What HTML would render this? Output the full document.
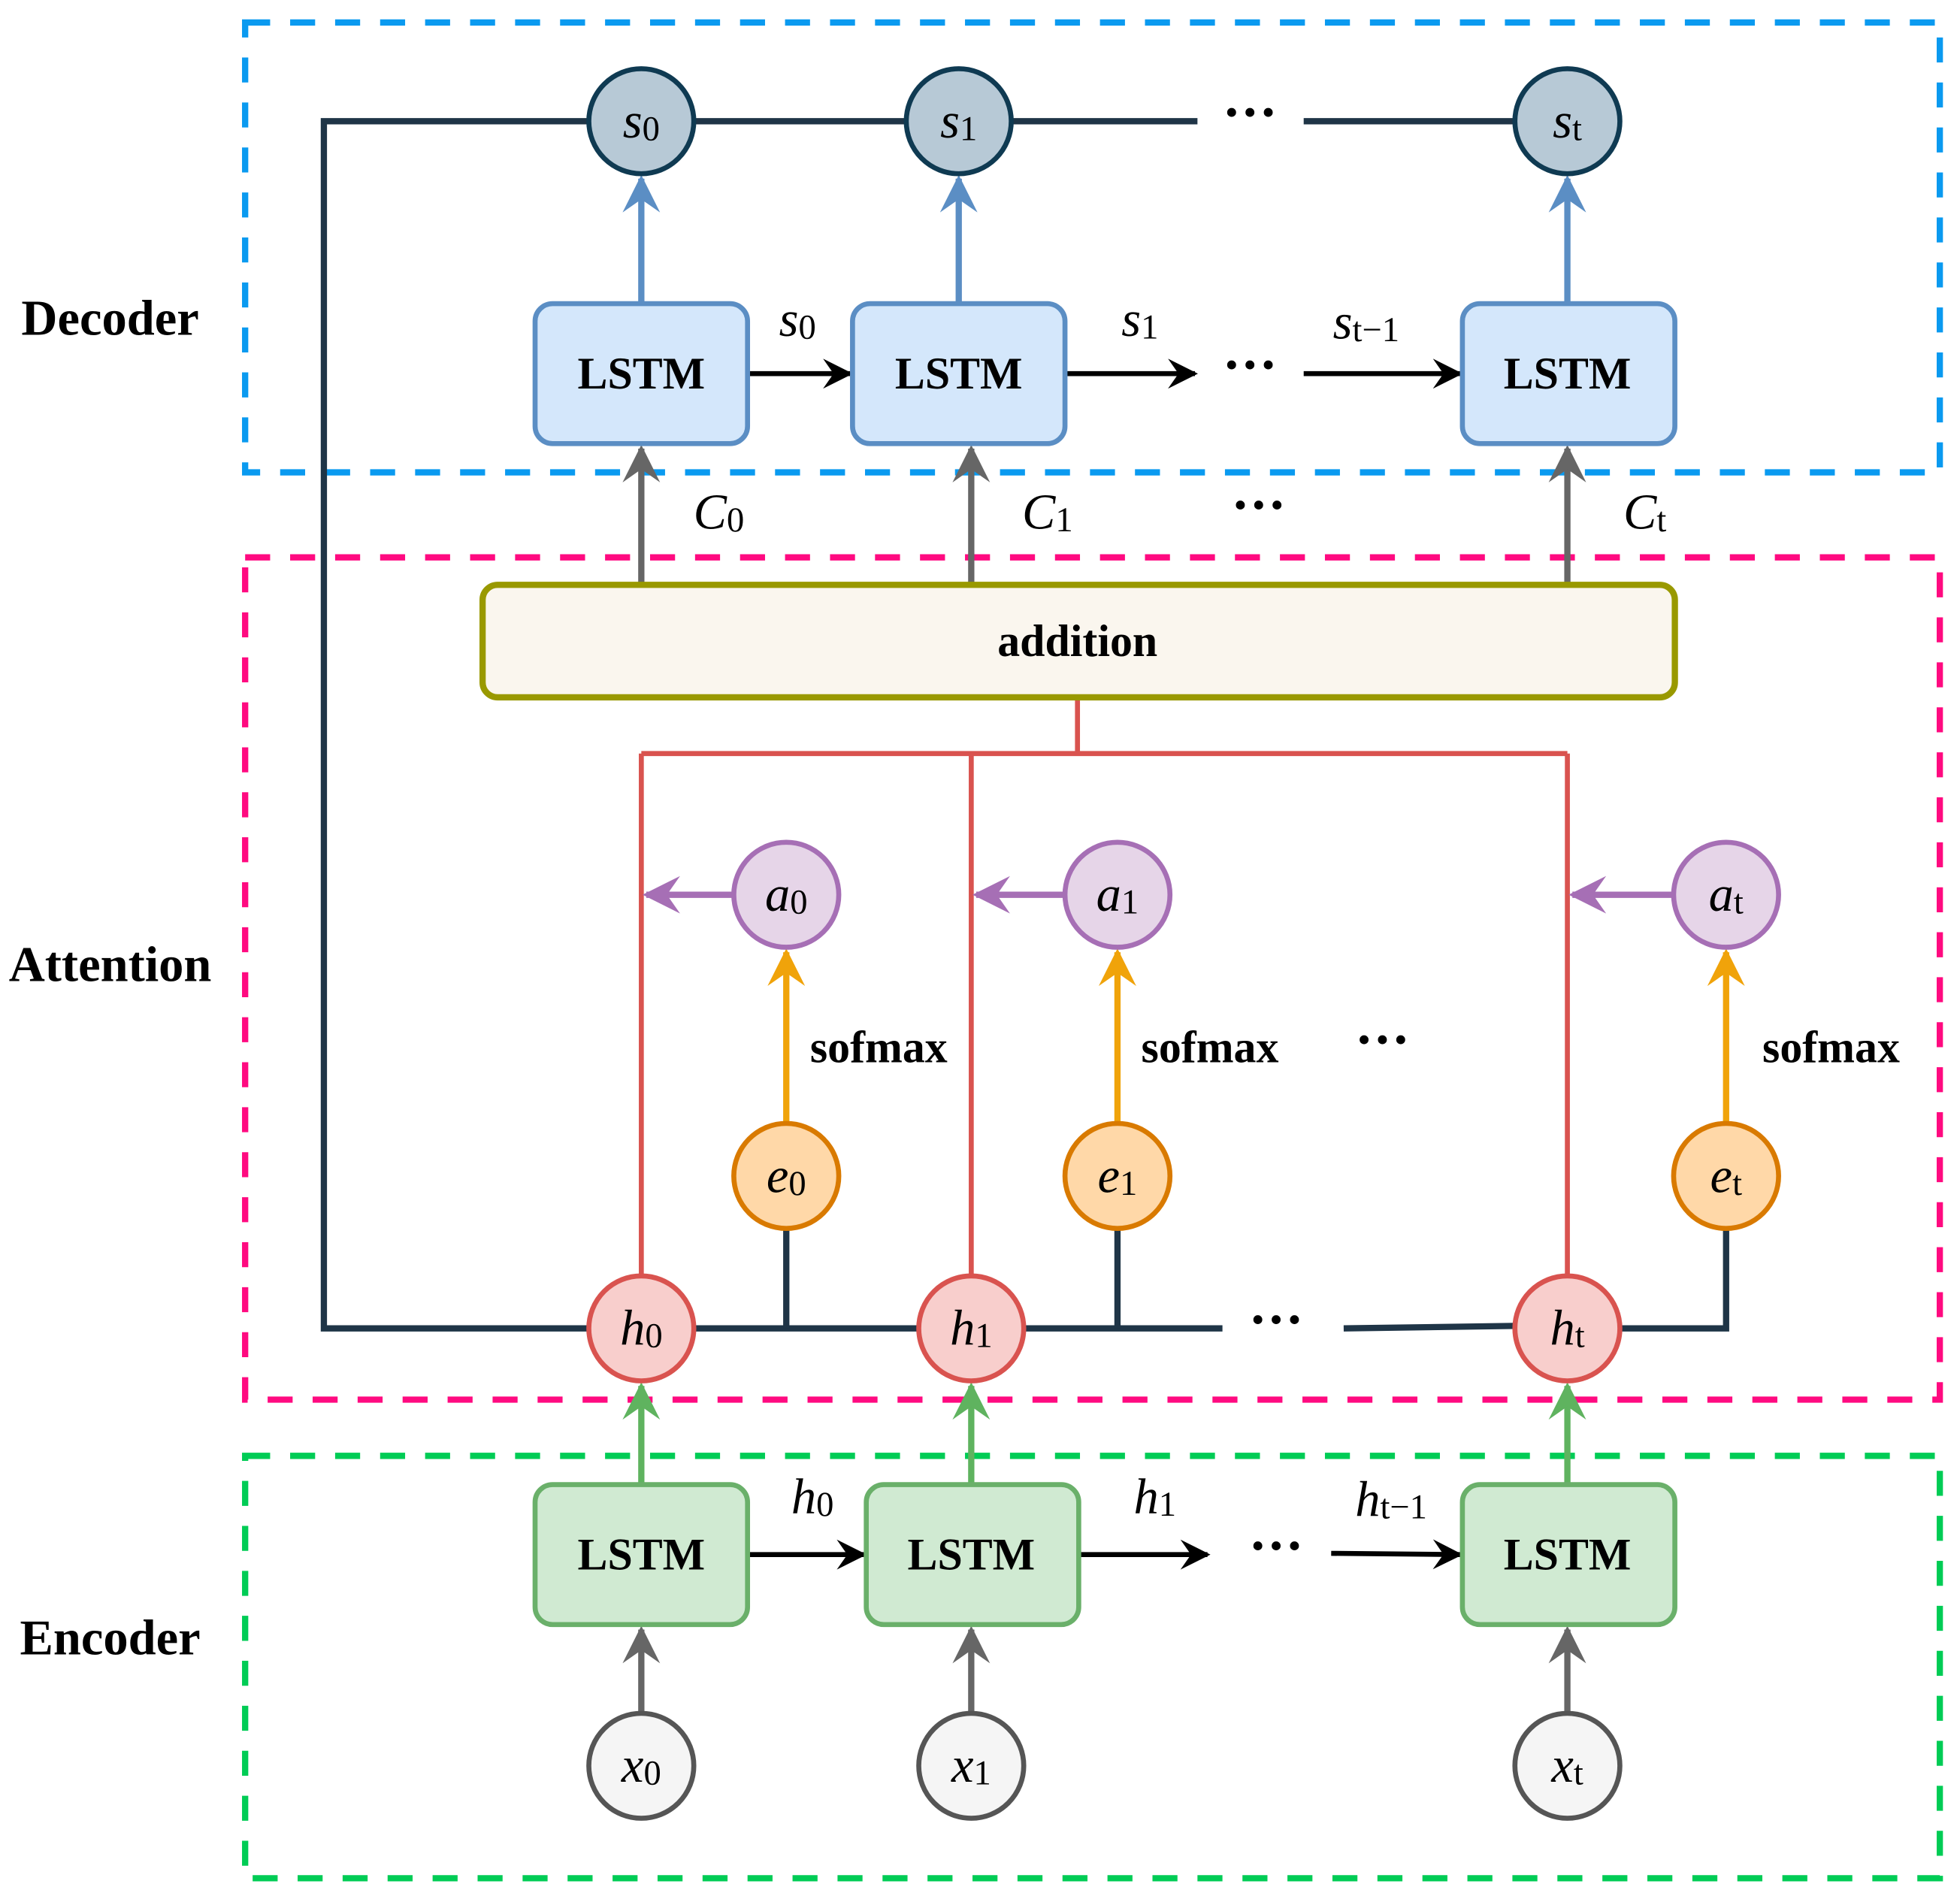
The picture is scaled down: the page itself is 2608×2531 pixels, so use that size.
<!DOCTYPE html>
<html><head><meta charset="utf-8"><style>html,body{margin:0;padding:0;background:#fff}svg{display:block}
.lb{font-family:"Liberation Serif",serif;font-weight:bold;font-size:40px;text-anchor:middle;dominant-baseline:central}
.dt{font-family:"Liberation Serif",serif;font-weight:bold;font-size:44px;text-anchor:middle;dominant-baseline:central}
.m{font-family:"Liberation Serif",serif;font-style:italic;font-size:40px;text-anchor:middle;dominant-baseline:central}
.sub{font-style:normal;font-size:28px}
.lt{font-family:"Liberation Serif",serif;font-weight:bold;font-size:36px;text-anchor:middle;dominant-baseline:central}
</style></head><body>
<svg width="2608" height="2531" viewBox="0 0 1568 1522" xmlns="http://www.w3.org/2000/svg">
<defs>
<marker id="ab" viewBox="0 0 10 10" refX="9" refY="5" markerWidth="6" markerHeight="6" orient="auto"><path d="M0,0L10,5L0,10L3.5,5z" fill="#5b8ec4"/></marker>
<marker id="ak" viewBox="0 0 10 10" refX="9" refY="5" markerWidth="6" markerHeight="6" orient="auto"><path d="M0,0L10,5L0,10L3.5,5z" fill="#000"/></marker>
<marker id="ag" viewBox="0 0 10 10" refX="9" refY="5" markerWidth="6" markerHeight="6" orient="auto"><path d="M0,0L10,5L0,10L3.5,5z" fill="#666"/></marker>
<marker id="ap" viewBox="0 0 10 10" refX="9" refY="5" markerWidth="6" markerHeight="6" orient="auto"><path d="M0,0L10,5L0,10L3.5,5z" fill="#a66fb5"/></marker>
<marker id="ao" viewBox="0 0 10 10" refX="9" refY="5" markerWidth="6" markerHeight="6" orient="auto"><path d="M0,0L10,5L0,10L3.5,5z" fill="#f0a30a"/></marker>
<marker id="agr" viewBox="0 0 10 10" refX="9" refY="5" markerWidth="6" markerHeight="6" orient="auto"><path d="M0,0L10,5L0,10L3.5,5z" fill="#5fb35f"/></marker>
</defs>
<rect x="196" y="18" width="1356" height="360" fill="none" stroke="#0a9af0" stroke-width="5" stroke-dasharray="20 16"/>
<rect x="196" y="446" width="1356" height="674" fill="none" stroke="#ff0a80" stroke-width="5" stroke-dasharray="20 16"/>
<rect x="196" y="1165" width="1356" height="338" fill="none" stroke="#00cc55" stroke-width="5" stroke-dasharray="20 16"/>
<text class="lb" x="88" y="255">Decoder</text>
<text class="lb" x="88" y="772">Attention</text>
<text class="lb" x="88" y="1311">Encoder</text>
<g stroke="#1f3547" stroke-width="5" fill="none">
<polyline points="470,97 259,97 259,1063 470,1063"/>
<line x1="555" y1="97" x2="725" y2="97"/><line x1="809" y1="97" x2="958" y2="97"/><line x1="1043" y1="97" x2="1212" y2="97"/>
<line x1="555" y1="1063" x2="735" y2="1063"/><line x1="819" y1="1063" x2="978" y2="1063"/><line x1="1075" y1="1063" x2="1212" y2="1061"/>
<line x1="629" y1="983" x2="629" y2="1063"/><line x1="894" y1="983" x2="894" y2="1063"/>
<polyline points="1381,983 1381,1063 1296,1063"/>
</g>
<text class="dt" x="1000" y="90">···</text>
<text class="dt" x="1021" y="1056">···</text>
<g stroke="#d9534f" stroke-width="4" fill="none">
<polyline points="862,558 862,603"/><line x1="513" y1="603" x2="1254" y2="603"/>
<line x1="513" y1="603" x2="513" y2="1021"/><line x1="777" y1="603" x2="777" y2="1021"/><line x1="1254" y1="603" x2="1254" y2="1021"/>
</g>
<g stroke="#5b8ec4" stroke-width="5" marker-end="url(#ab)">
<line x1="513" y1="243" x2="513" y2="143"/><line x1="767" y1="243" x2="767" y2="143"/><line x1="1254" y1="243" x2="1254" y2="143"/>
</g>
<g stroke="#000" stroke-width="4" marker-end="url(#ak)">
<line x1="598" y1="299" x2="680" y2="299"/><line x1="852" y1="299" x2="956" y2="299"/><line x1="1043" y1="299" x2="1168" y2="299"/>
<line x1="598" y1="1244" x2="691" y2="1244"/><line x1="863" y1="1244" x2="966" y2="1244"/><line x1="1065" y1="1243" x2="1168" y2="1244"/>
</g>
<text class="dt" x="1000" y="292">···</text>
<text class="dt" x="1021" y="1237">···</text>
<g stroke="#666" stroke-width="5" marker-end="url(#ag)">
<line x1="513" y1="468" x2="513" y2="359"/><line x1="777" y1="468" x2="777" y2="359"/><line x1="1254" y1="468" x2="1254" y2="359"/>
<line x1="513" y1="1371" x2="513" y2="1304"/><line x1="777" y1="1371" x2="777" y2="1304"/><line x1="1254" y1="1371" x2="1254" y2="1304"/>
</g>
<g stroke="#a66fb5" stroke-width="5" marker-end="url(#ap)">
<line x1="587" y1="716" x2="517" y2="716"/><line x1="852" y1="716" x2="781" y2="716"/><line x1="1339" y1="716" x2="1258" y2="716"/>
</g>
<g stroke="#f0a30a" stroke-width="5" marker-end="url(#ao)">
<line x1="629" y1="899" x2="629" y2="762"/><line x1="894" y1="899" x2="894" y2="762"/><line x1="1381" y1="899" x2="1381" y2="762"/>
</g>
<g stroke="#5fb35f" stroke-width="5" marker-end="url(#agr)">
<line x1="513" y1="1188" x2="513" y2="1109"/><line x1="777" y1="1188" x2="777" y2="1109"/><line x1="1254" y1="1188" x2="1254" y2="1109"/>
</g>
<g fill="#d4e7fb" stroke="#5b8ec4" stroke-width="4">
<rect x="428" y="243" width="170" height="112" rx="14"/><rect x="682" y="243" width="170" height="112" rx="14"/><rect x="1170" y="243" width="170" height="112" rx="14"/>
</g>
<g fill="#d0ead2" stroke="#6ab06a" stroke-width="4">
<rect x="428" y="1188" width="170" height="112" rx="14"/><rect x="693" y="1188" width="170" height="112" rx="14"/><rect x="1170" y="1188" width="170" height="112" rx="14"/>
</g>
<text class="lt" x="513" y="299">LSTM</text><text class="lt" x="767" y="299">LSTM</text><text class="lt" x="1254" y="299">LSTM</text>
<text class="lt" x="513" y="1244">LSTM</text><text class="lt" x="777" y="1244">LSTM</text><text class="lt" x="1254" y="1244">LSTM</text>
<rect x="386" y="468" width="954" height="90" rx="12" fill="#faf6ee" stroke="#999900" stroke-width="5"/>
<text class="lt" x="862" y="513">addition</text>
<g fill="#b7c9d6" stroke="#0f3a52" stroke-width="4"><circle cx="513" cy="97" r="42"/><circle cx="767" cy="97" r="42"/><circle cx="1254" cy="97" r="42"/></g>
<g fill="#e6d5e8" stroke="#a66fb5" stroke-width="4"><circle cx="629" cy="716" r="42"/><circle cx="894" cy="716" r="42"/><circle cx="1381" cy="716" r="42"/></g>
<g fill="#ffd8a8" stroke="#d97a00" stroke-width="4"><circle cx="629" cy="941" r="42"/><circle cx="894" cy="941" r="42"/><circle cx="1381" cy="941" r="42"/></g>
<g fill="#f8cecc" stroke="#d9534f" stroke-width="4"><circle cx="513" cy="1063" r="42"/><circle cx="777" cy="1063" r="42"/><circle cx="1254" cy="1063" r="42"/></g>
<g fill="#f5f5f5" stroke="#555" stroke-width="4"><circle cx="513" cy="1413" r="42"/><circle cx="777" cy="1413" r="42"/><circle cx="1254" cy="1413" r="42"/></g>
<text class="m" x="513" y="97">s<tspan class="sub" dy="6">0</tspan></text>
<text class="m" x="767" y="97">s<tspan class="sub" dy="6">1</tspan></text>
<text class="m" x="1254" y="97">s<tspan class="sub" dy="6">t</tspan></text>
<text class="m" x="638" y="256">s<tspan class="sub" dy="6">0</tspan></text>
<text class="m" x="912" y="256">s<tspan class="sub" dy="6">1</tspan></text>
<text class="m" x="1093" y="258">s<tspan class="sub" dy="6">t−1</tspan></text>
<text class="m" x="575" y="410">C<tspan class="sub" dy="6">0</tspan></text>
<text class="m" x="838" y="410">C<tspan class="sub" dy="6">1</tspan></text>
<text class="dt" x="1007" y="404">···</text>
<text class="m" x="1316" y="410">C<tspan class="sub" dy="6">t</tspan></text>
<text class="m" x="629" y="716">a<tspan class="sub" dy="6">0</tspan></text>
<text class="m" x="894" y="716">a<tspan class="sub" dy="6">1</tspan></text>
<text class="m" x="1381" y="716">a<tspan class="sub" dy="6">t</tspan></text>
<text class="m" x="629" y="941">e<tspan class="sub" dy="6">0</tspan></text>
<text class="m" x="894" y="941">e<tspan class="sub" dy="6">1</tspan></text>
<text class="m" x="1381" y="941">e<tspan class="sub" dy="6">t</tspan></text>
<text class="m" x="513" y="1063">h<tspan class="sub" dy="6">0</tspan></text>
<text class="m" x="777" y="1063">h<tspan class="sub" dy="6">1</tspan></text>
<text class="m" x="1254" y="1063">h<tspan class="sub" dy="6">t</tspan></text>
<text class="m" x="650" y="1198">h<tspan class="sub" dy="6">0</tspan></text>
<text class="m" x="924" y="1198">h<tspan class="sub" dy="6">1</tspan></text>
<text class="m" x="1113" y="1200">h<tspan class="sub" dy="6">t−1</tspan></text>
<text class="m" x="513" y="1413">x<tspan class="sub" dy="6">0</tspan></text>
<text class="m" x="777" y="1413">x<tspan class="sub" dy="6">1</tspan></text>
<text class="m" x="1254" y="1413">x<tspan class="sub" dy="6">t</tspan></text>
<text class="lt" x="703" y="838">sofmax</text>
<text class="lt" x="968" y="838">sofmax</text>
<text class="lt" x="1465" y="838">sofmax</text>
<text class="dt" x="1106" y="832">···</text>
</svg>
</body></html>
